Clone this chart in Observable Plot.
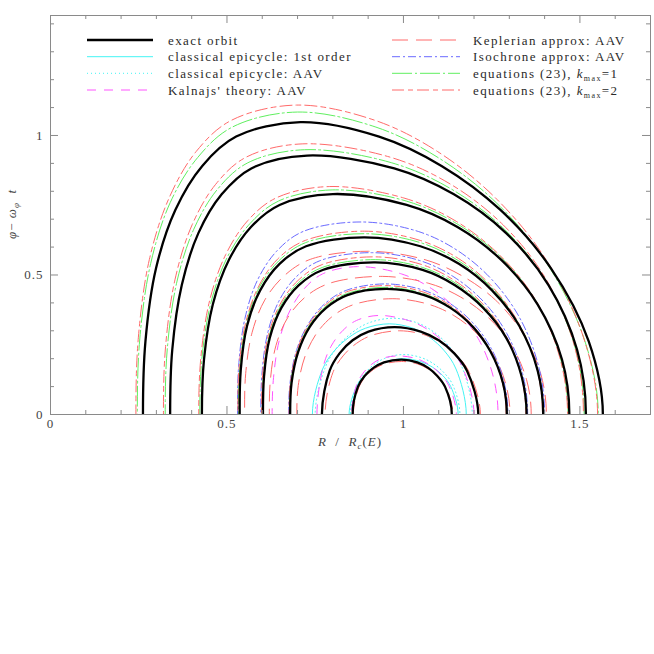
<!DOCTYPE html>
<html><head><meta charset="utf-8">
<script src="https://cdn.jsdelivr.net/npm/d3@7"></script>
<script src="https://cdn.jsdelivr.net/npm/@observablehq/plot@0.6"></script>
<style>body{margin:0;background:#fff} svg{display:block}</style>
</head><body>
<script>
// ---------- tick values ----------
const xMajorTicks = [0, 0.5, 1, 1.5];
const xMinorTicks = [0.1, 0.2, 0.3, 0.4, 0.6, 0.7, 0.8, 0.9, 1.1, 1.2, 1.3, 1.4, 1.6];
const yMajorTicks = [0, 0.5, 1];
const yMinorTicks = [0.1, 0.2, 0.3, 0.4, 0.6, 0.7, 0.8, 0.9, 1.1, 1.2, 1.3, 1.4];

// ---------- curves (upper halves, [R/Rc(E), phi - omega_phi t]) ----------
const exactOrbit = [
  [[.856,0],[.871,.099],[.89,.138],[.915,.167],[.945,.187],[.995,.197],[1.039,.187],[1.07,.167],[1.096,.138],[1.118,.099],[1.137,0]],
  [[.769,0],[.791,.157],[.819,.219],[.856,.266],[.901,.297],[.975,.313],[1.049,.297],[1.1,.266],[1.144,.219],[1.18,.157],[1.212,0]],
  [[.679,0],[.683,.113],[.702,.225],[.735,.315],[.782,.383],[.841,.428],[.953,.45],[1.059,.428],[1.132,.383],[1.196,.315],[1.247,.225],[1.282,.113],[1.293,0]],
  [[.602,0],[.605,.136],[.621,.273],[.654,.382],[.703,.463],[.771,.518],[.92,.545],[1.054,.518],[1.146,.463],[1.226,.382],[1.292,.273],[1.335,.136],[1.349,0]],
  [[.536,0],[.539,.159],[.557,.318],[.594,.445],[.649,.54],[.724,.603],[.89,.635],[1.048,.603],[1.157,.54],[1.251,.445],[1.328,.318],[1.38,.159],[1.396,0]],
  [[.429,0],[.435,.198],[.46,.395],[.505,.553],[.568,.672],[.649,.751],[.80,.79],[1.009,.751],[1.153,.672],[1.278,.553],[1.38,.395],[1.449,.198],[1.47,0]],
  [[.339,0],[.345,.232],[.372,.464],[.419,.65],[.485,.789],[.569,.882],[.727,.928],[.974,.882],[1.143,.789],[1.291,.65],[1.411,.464],[1.492,.232],[1.517,0]],
  [[.262,0],[.269,.262],[.299,.524],[.354,.734],[.43,.891],[.526,.996],[.708,1.048],[.931,.996],[1.108,.891],[1.274,.734],[1.418,.524],[1.525,.262],[1.565,0]]
];
const epicycleFirst = [
  [[.846,0],[.867,.1],[.89,.14],[.919,.17],[.952,.19],[1.0,.2],[1.048,.19],[1.082,.17],[1.111,.14],[1.134,.1],[1.155,0]],
  [[.742,0],[.771,.163],[.804,.228],[.845,.276],[.892,.309],[.96,.325],[1.028,.309],[1.075,.276],[1.116,.228],[1.149,.163],[1.178,0]]
];
const epicycleAAV = [
  [[.85,0],[.87,.108],[.893,.151],[.921,.183],[.953,.204],[1.0,.215],[1.05,.204],[1.084,.183],[1.114,.151],[1.139,.108],[1.16,0]],
  [[.75,0],[.78,.173],[.813,.242],[.854,.293],[.901,.328],[.97,.345],[1.04,.328],[1.089,.293],[1.131,.242],[1.165,.173],[1.195,0]]
];
const kalnajsAAV = [
  [[.853,0],[.867,.105],[.885,.147],[.909,.179],[.937,.2],[.985,.21],[1.037,.2],[1.072,.179],[1.103,.147],[1.128,.105],[1.15,0]],
  [[.755,0],[.774,.178],[.797,.249],[.829,.302],[.867,.337],[.93,.355],[1.014,.337],[1.072,.302],[1.123,.249],[1.164,.178],[1.20,0]],
  [[.628,0],[.632,.133],[.648,.265],[.678,.371],[.719,.451],[.771,.504],[.87,.53],[.994,.504],[1.08,.451],[1.154,.371],[1.215,.265],[1.255,.133],[1.268,0]]
];
const keplerAAV = [
  [[.858,0],[.873,.095],[.891,.133],[.916,.162],[.946,.181],[.995,.19],[1.04,.181],[1.071,.162],[1.099,.133],[1.121,.095],[1.14,0]],
  [[.778,0],[.80,.15],[.829,.21],[.867,.255],[.913,.285],[.99,.30],[1.061,.285],[1.11,.255],[1.153,.21],[1.187,.15],[1.218,0]],
  [[.698,0],[.702,.104],[.721,.208],[.754,.291],[.80,.353],[.859,.394],[.97,.415],[1.074,.394],[1.145,.353],[1.207,.291],[1.258,.208],[1.291,.104],[1.302,0]],
  [[.62,0],[.623,.124],[.639,.248],[.672,.347],[.722,.421],[.79,.47],[.94,.495],[1.072,.47],[1.162,.421],[1.241,.347],[1.306,.248],[1.349,.124],[1.362,0]],
  [[.55,0],[.553,.146],[.571,.293],[.607,.41],[.662,.497],[.736,.556],[.90,.585],[1.058,.556],[1.166,.497],[1.261,.41],[1.337,.293],[1.389,.146],[1.405,0]]
];
const isochroneAAV = [
  [[.675,0],[.679,.117],[.698,.234],[.732,.328],[.778,.398],[.838,.445],[.95,.468],[1.058,.445],[1.132,.398],[1.197,.328],[1.25,.234],[1.285,.117],[1.296,0]],
  [[.596,0],[.599,.145],[.615,.29],[.647,.406],[.696,.493],[.763,.551],[.91,.58],[1.048,.551],[1.143,.493],[1.226,.406],[1.293,.29],[1.338,.145],[1.352,0]],
  [[.53,0],[.533,.173],[.551,.345],[.587,.483],[.642,.587],[.716,.656],[.88,.69],[1.042,.656],[1.154,.587],[1.251,.483],[1.33,.345],[1.383,.173],[1.40,0]]
];
const eq23k1 = [
  [[.677,0],[.681,.114],[.70,.228],[.733,.319],[.78,.388],[.839,.433],[.95,.456],[1.057,.433],[1.13,.388],[1.194,.319],[1.246,.228],[1.281,.114],[1.292,0]],
  [[.60,0],[.603,.139],[.619,.278],[.652,.389],[.702,.472],[.77,.527],[.92,.555],[1.054,.527],[1.146,.472],[1.226,.389],[1.291,.278],[1.334,.139],[1.348,0]],
  [[.533,0],[.536,.162],[.554,.324],[.591,.454],[.647,.551],[.723,.616],[.89,.648],[1.048,.616],[1.156,.551],[1.251,.454],[1.327,.324],[1.379,.162],[1.395,0]],
  [[.423,0],[.429,.201],[.455,.403],[.501,.564],[.565,.684],[.646,.765],[.80,.805],[1.008,.765],[1.151,.684],[1.276,.564],[1.377,.403],[1.445,.201],[1.466,0]],
  [[.325,0],[.331,.237],[.358,.475],[.406,.664],[.473,.807],[.559,.902],[.72,.949],[.967,.902],[1.137,.807],[1.286,.664],[1.406,.475],[1.487,.237],[1.512,0]],
  [[.246,0],[.253,.271],[.284,.542],[.339,.759],[.417,.921],[.515,1.03],[.70,1.084],[.922,1.03],[1.098,.921],[1.263,.759],[1.406,.542],[1.512,.271],[1.552,0]]
];
const eq23k2 = [
  [[.676,0],[.68,.116],[.699,.231],[.732,.323],[.779,.393],[.838,.439],[.95,.462],[1.056,.439],[1.13,.393],[1.194,.323],[1.245,.231],[1.28,.116],[1.291,0]],
  [[.598,0],[.601,.141],[.617,.283],[.651,.396],[.701,.48],[.769,.537],[.92,.565],[1.053,.537],[1.145,.48],[1.225,.396],[1.29,.283],[1.333,.141],[1.347,0]],
  [[.531,0],[.534,.164],[.553,.329],[.59,.46],[.645,.559],[.722,.624],[.89,.657],[1.047,.624],[1.156,.559],[1.25,.46],[1.326,.329],[1.378,.164],[1.394,0]],
  [[.42,0],[.426,.204],[.451,.409],[.496,.572],[.559,.695],[.639,.776],[.79,.817],[1.001,.776],[1.146,.695],[1.272,.572],[1.375,.409],[1.443,.204],[1.465,0]],
  [[.32,0],[.326,.243],[.353,.485],[.401,.679],[.468,.825],[.554,.922],[.715,.97],[.963,.922],[1.134,.825],[1.283,.679],[1.404,.485],[1.485,.243],[1.51,0]],
  [[.242,0],[.249,.277],[.28,.555],[.336,.776],[.413,.943],[.512,1.054],[.698,1.109],[.92,1.054],[1.096,.943],[1.261,.776],[1.404,.555],[1.51,.277],[1.55,0]]
];

// ---------- series styling ----------
const series = [
  {label: "exact orbit", curves: exactOrbit, stroke: "#000000", width: 2.3, dash: null},
  {label: "classical epicycle: 1st order", curves: epicycleFirst, stroke: "#44f4f4", width: 1, dash: null},
  {label: "classical epicycle: AAV", curves: epicycleAAV, stroke: "#44f4f4", width: 1, dash: "1,3"},
  {label: "Kalnajs' theory: AAV", curves: kalnajsAAV, stroke: "#ff55ff", width: 1, dash: "9,8"},
  {label: "Keplerian approx: AAV", curves: keplerAAV, stroke: "#ff6a6a", width: 1, dash: "16,8"},
  {label: "Isochrone approx: AAV", curves: isochroneAAV, stroke: "#6a6aff", width: 1, dash: "8,3,2,3"},
  {label: "equations (23), k=1", curves: eq23k1, stroke: "#5fef5f", width: 1, dash: "20,3,2,3"},
  {label: "equations (23), k=2", curves: eq23k2, stroke: "#ff6a6a", width: 1, dash: "12,4,5,4"}
];

// the closed orbit is symmetric about y=0: extend each half with its reflected neighbours
function rows(curves, name) {
  const out = [];
  curves.forEach((pts, i) => {
    const n = pts.length;
    const ext = [[pts[1][0], -pts[1][1]], ...pts, [pts[n - 2][0], -pts[n - 2][1]]];
    ext.forEach(([x, y]) => out.push({x, y, id: name + i}));
  });
  return out;
}

const W = 654, H = 654, mL = 50, mR = 4, mT = 15, mB = 240;
const pw = W - mL - mR, ph = H - mT - mB;
const axisColor = "#8a8a8a";

const curveMarks = [];
[...series.slice(1), series[0]].forEach(s => {
  curveMarks.push(Plot.line(rows(s.curves, s.label), {
    x: "x", y: "y", z: "id", curve: "catmull-rom", clip: true,
    stroke: s.stroke, strokeWidth: s.width, strokeDasharray: s.dash
  }));
});

const chart = Plot.plot({
  width: W, height: H,
  marginLeft: mL, marginRight: mR, marginTop: mT, marginBottom: mB,
  x: {domain: [0, 1.7], label: null},
  y: {domain: [0, 1.43], label: null},
  style: {fontFamily: "'Liberation Serif', serif", fontSize: "13px", color: "#333", background: "#fff"},
  marks: [
    ...curveMarks,
    Plot.ruleX(xMajorTicks, {x: d => d, insetTop: ph - 8, stroke: axisColor}),
    Plot.ruleX(xMajorTicks, {x: d => d, insetBottom: ph - 8, stroke: axisColor}),
    Plot.ruleX(xMinorTicks, {x: d => d, insetTop: ph - 4, stroke: axisColor}),
    Plot.ruleX(xMinorTicks, {x: d => d, insetBottom: ph - 4, stroke: axisColor}),
    Plot.ruleY(yMajorTicks, {y: d => d, insetRight: pw - 8, stroke: axisColor}),
    Plot.ruleY(yMajorTicks, {y: d => d, insetLeft: pw - 8, stroke: axisColor}),
    Plot.ruleY(yMinorTicks, {y: d => d, insetRight: pw - 4, stroke: axisColor}),
    Plot.ruleY(yMinorTicks, {y: d => d, insetLeft: pw - 4, stroke: axisColor}),
    Plot.frame({stroke: axisColor}),
    Plot.axisX(xMajorTicks, {tickSize: 0, tickPadding: 4, tickFormat: d => String(d), fill: "#444", fontSize: 13, label: null}),
    Plot.axisY(yMajorTicks, {tickSize: 0, tickPadding: 7, tickFormat: d => String(d), fill: "#444", fontSize: 13, label: null})
  ]
});
document.body.appendChild(chart);

// ---------- legend and axis titles ----------
const svg = d3.select(chart);
svg.selectAll("g[aria-label$='tick label'] text").style("letter-spacing", "1px");
const font = "'Liberation Serif', serif";
const leg = svg.append("g").attr("font-family", font).attr("font-size", 13).attr("fill", "#2a2a2a")
  .attr("text-anchor", "start").style("letter-spacing", "1.4px");
const cols = [{x1: 87, x2: 153, tx: 168}, {x1: 392, x2: 460, tx: 473}];
const rowY = [40, 56.7, 73.3, 90];
series.forEach((s, i) => {
  const c = cols[Math.floor(i / 4)], y = rowY[i % 4];
  leg.append("line").attr("x1", c.x1).attr("x2", c.x2).attr("y1", y).attr("y2", y)
    .attr("stroke", s.stroke).attr("stroke-width", s.width).attr("stroke-dasharray", s.dash);
  const t = leg.append("text").attr("x", c.tx).attr("y", y + 4.5).attr("text-anchor", "start");
  if (i >= 6) {
    t.append("tspan").text("equations (23), ");
    t.append("tspan").attr("font-style", "italic").text("k");
    t.append("tspan").attr("font-size", 8).attr("dy", 3).text("max");
    t.append("tspan").attr("dy", -3).text(i === 6 ? "=1" : "=2");
  } else {
    t.text(s.label);
  }
});

const xt = svg.append("text").attr("x", 350).attr("y", 446).attr("text-anchor", "middle")
  .attr("font-family", font).attr("font-size", 13).attr("fill", "#444").style("letter-spacing", "1px");
xt.append("tspan").attr("font-style", "italic").text("R");
xt.append("tspan").text("  /  ");
xt.append("tspan").attr("font-style", "italic").text("R");
xt.append("tspan").attr("font-size", 9).attr("dy", 3).attr("font-style", "italic").text("c");
xt.append("tspan").attr("dy", -3).text("(");
xt.append("tspan").attr("font-style", "italic").text("E");
xt.append("tspan").text(")");

const yt = svg.append("text").attr("transform", "translate(16,214) rotate(-90)").attr("text-anchor", "middle")
  .attr("font-family", font).attr("font-size", 13).attr("fill", "#444").style("letter-spacing", "1px");
yt.append("tspan").attr("font-style", "italic").text("φ");
yt.append("tspan").text("− ");
yt.append("tspan").attr("font-style", "italic").text("ω");
yt.append("tspan").attr("font-size", 9).attr("dy", 3).attr("font-style", "italic").text("φ");
yt.append("tspan").attr("dy", -3).text("  ");
yt.append("tspan").attr("font-style", "italic").text("t");
</script>
</body></html>
